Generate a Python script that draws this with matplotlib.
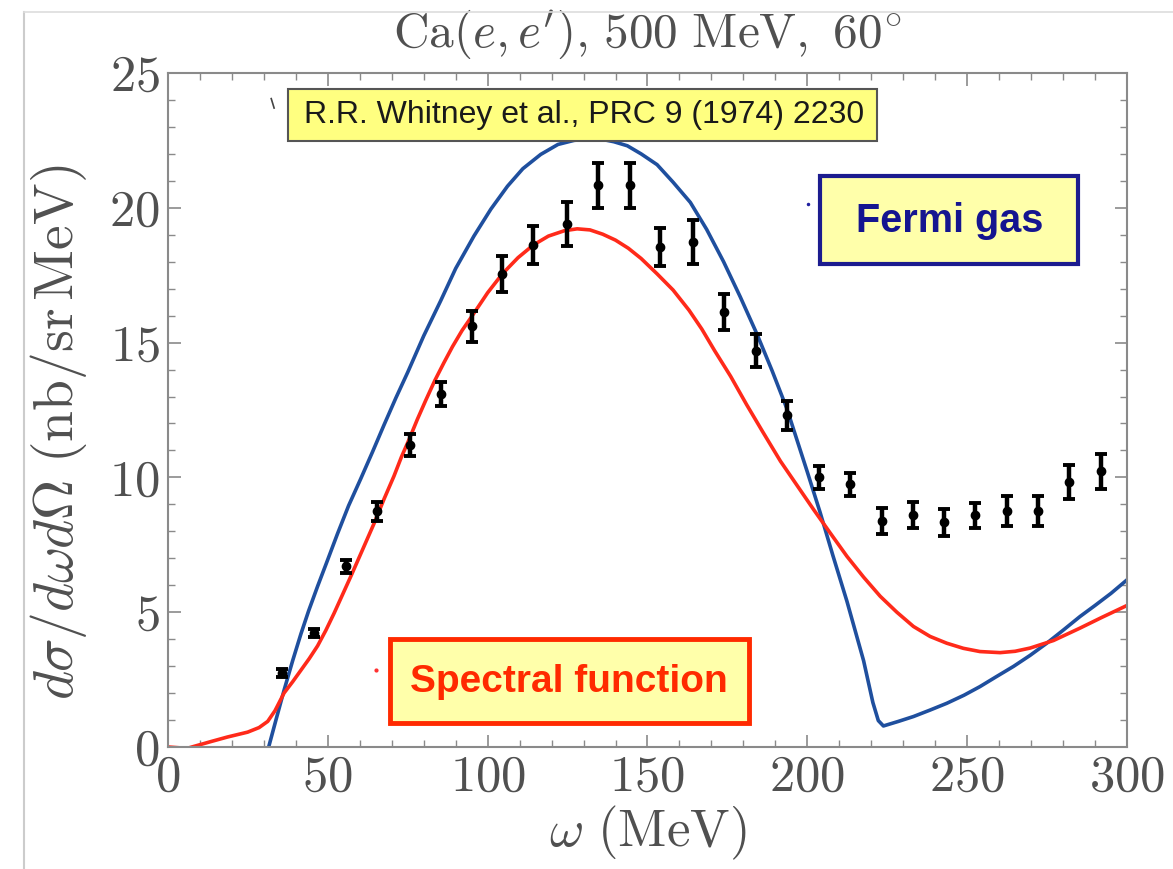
import matplotlib.pyplot as plt
from matplotlib.patches import Rectangle
from matplotlib.lines import Line2D

# measured cross section, Whitney et al.
omega_data = [35.8, 45.7, 55.6, 65.3, 75.7, 85.4, 95.2, 104.6, 114.3, 124.7, 134.5, 144.4, 154.0, 164.3,
              173.8, 183.8, 193.6, 203.7, 213.4, 223.2, 233.0, 242.6, 252.5, 262.4, 272.1, 282.0, 291.8]
xsec_data = [2.74, 4.23, 6.70, 8.75, 11.2, 13.1, 15.6, 17.55, 18.62, 19.4, 20.83, 20.83, 18.54, 18.73,
             16.14, 14.7, 12.3, 10.0, 9.75, 8.38, 8.6, 8.34, 8.59, 8.75, 8.75, 9.83, 10.23]
xsec_err = [0.15, 0.15, 0.25, 0.35, 0.42, 0.45, 0.57, 0.67, 0.7, 0.82, 0.82, 0.82, 0.7, 0.8,
            0.67, 0.62, 0.55, 0.43, 0.43, 0.47, 0.47, 0.5, 0.47, 0.55, 0.55, 0.62, 0.65]

# Fermi gas model
fg_omega = [31.5, 34.0, 36.3, 39.0, 41.6, 44.0, 46.8, 49.5, 53.0, 56.5, 60.3, 64.0, 67.6, 71.3, 75.0,
            80.0, 85.3, 90.0, 95.7, 101.0, 106.2, 111.0, 116.6, 122.0, 127.0, 131.0, 135.3, 139.5,
            143.7, 148.0, 153.0, 158.0, 163.4, 168.5, 173.8, 179.0, 184.3, 189.0, 193.6, 197.0,
            200.0, 204.0, 208.0, 212.4, 217.6, 220.5, 222.2, 223.8, 228.5, 233.2, 238.4, 243.6,
            249.0, 254.0, 259.0, 264.5, 269.7, 274.9, 280.0, 285.3, 290.0, 295.0, 300.0]
fg_xsec = [0.0, 1.1, 2.1, 3.2, 4.2, 5.05, 5.96, 6.8, 7.9, 8.95, 9.95, 10.95, 11.95, 12.95, 13.9,
           15.25, 16.55, 17.75, 18.95, 19.95, 20.8, 21.45, 21.98, 22.35, 22.5, 22.55, 22.55, 22.45,
           22.3, 22.0, 21.6, 20.95, 20.2, 19.2, 18.0, 16.7, 15.3, 13.95, 12.55, 11.3,
           10.2, 8.7, 7.1, 5.4, 3.2, 1.65, 0.98, 0.78, 0.95, 1.13, 1.37, 1.62,
           1.92, 2.24, 2.6, 2.99, 3.4, 3.85, 4.33, 4.84, 5.25, 5.7, 6.2]

# spectral function model
sf_omega = [0.0, 6.0, 13.4, 18.6, 24.9, 28.5, 31.2, 33.5, 36.3, 39.0, 41.6, 44.2, 46.8, 49.4, 52.0,
            57.2, 60.8, 64.5, 67.6, 70.7, 73.0, 75.4, 78.0, 80.6, 83.5, 86.3, 89.0, 92.0, 95.2,
            100.0, 104.6, 109.5, 114.3, 119.0, 124.0, 128.0, 132.0, 136.0, 140.0, 144.0, 148.0,
            153.0, 158.0, 163.0, 167.0, 171.0, 176.0, 181.0, 186.0, 191.6, 196.8, 202.0, 207.2,
            212.4, 217.6, 222.8, 228.0, 233.2, 238.4, 243.6, 248.8, 254.0, 260.3, 265.0, 269.7,
            277.0, 285.3, 292.0, 300.0]
sf_xsec = [0.0, -0.05, 0.2, 0.37, 0.55, 0.72, 0.95, 1.35, 2.0, 2.42, 2.85, 3.28, 3.75, 4.33, 4.97,
           6.33, 7.3, 8.3, 9.2, 10.05, 10.75, 11.4, 12.15, 12.85, 13.6, 14.25, 14.85, 15.45, 16.0,
           16.85, 17.55, 18.15, 18.62, 18.95, 19.15, 19.22, 19.18, 19.02, 18.8, 18.5, 18.12,
           17.55, 16.95, 16.2, 15.5, 14.7, 13.75, 12.7, 11.7, 10.6, 9.7, 8.8, 7.93,
           7.07, 6.3, 5.59, 5.0, 4.47, 4.1, 3.85, 3.66, 3.54, 3.5, 3.55, 3.67,
           3.95, 4.41, 4.8, 5.25]

plt.rcParams['mathtext.fontset'] = 'cm'
plt.rcParams['font.family'] = 'serif'
plt.rcParams['font.serif'] = ['cmr10']
plt.rcParams['axes.formatter.use_mathtext'] = True

fig = plt.figure(figsize=(11.73, 8.69), dpi=100)
ax = fig.add_axes([0.1432, 0.1404, 0.8176, 0.7756])

ax.plot(fg_omega, fg_xsec, color='#1f4f9e', lw=2.6, zorder=2, solid_joinstyle='round')
ax.plot(sf_omega, sf_xsec, color='#ff2a1a', lw=2.6, zorder=2, solid_joinstyle='round')
ax.errorbar(omega_data, xsec_data, yerr=xsec_err, fmt='o', color='black', ms=6,
            elinewidth=3.2, capsize=4.5, capthick=2.8, zorder=3)

ax.set_xlim(0, 300)
ax.set_ylim(0, 25)
ax.set_xticks(range(0, 301, 50))
ax.set_xticks(range(0, 301, 10), minor=True)
ax.set_yticks(range(0, 26, 5))
ax.set_yticks(range(0, 26, 1), minor=True)
ax.tick_params(which='both', direction='in', top=True, right=True, colors='#8a8a8a',
               labelcolor='#505050', labelsize=36.5)
ax.tick_params(which='major', length=9, width=1.2, pad=6)
ax.tick_params(which='minor', length=5, width=1.0)
for s in ax.spines.values():
    s.set_color('#8a8a8a')
    s.set_linewidth(1.5)

ax.set_xlabel(r'$\omega\ (\mathrm{MeV})$', fontsize=38, color='#505050')
ax.set_ylabel(r'$d\sigma/d\omega d\Omega\ (\mathrm{nb/sr\,MeV})$', fontsize=40, color='#505050')
ax.xaxis.set_label_coords(0.5, -0.085)
ax.yaxis.set_label_coords(-0.082, 0.467)
ax.set_title(r'$\mathrm{Ca}(e,e^{\prime})\mathrm{,}\ 500\ \mathrm{MeV,}\ 60^{\circ}$', fontsize=35.5,
             color='#505050', pad=19)

sans = ['Liberation Sans', 'DejaVu Sans']

# reference box
ax.add_patch(Rectangle((37.5, 22.49), 184.4, 1.9, fc='#ffff80', ec='#555555', lw=1.5, zorder=4))
ax.text(130.3, 23.44, 'R.R. Whitney et al., PRC 9 (1974) 2230', fontsize=23, family=sans,
        ha='center', va='center', color='#1a1a1a', zorder=5)
ax.plot([32.3, 33.2], [24.05, 23.7], color='#444444', lw=1.2, zorder=4)

# model labels
ax.add_patch(Rectangle((204.1, 17.92), 80.6, 3.27, fc='#ffffaa', ec='#1c1c8f', lw=3, zorder=4))
ax.text(244.4, 19.5, 'Fermi gas', fontsize=28.5, family=sans, weight='bold',
        ha='center', va='center', color='#151590', zorder=5)
ax.plot(200.3, 20.15, '.', color='#2020a0', ms=3, zorder=4)

ax.add_patch(Rectangle((69.4, 0.89), 112.5, 3.12, fc='#ffffaa', ec='#ff2a00', lw=3.5, zorder=4))
ax.text(125.4, 2.4, 'Spectral function', fontsize=28, family=sans, weight='bold',
        ha='center', va='center', color='#ff2a00', zorder=5)
ax.plot(65, 2.86, '.', color='#ff3030', ms=4, zorder=4)

# frame lines around the figure
fig.add_artist(Line2D([24 / 1173, 24 / 1173], [0, 1 - 12 / 869], color='#cccccc', lw=1.5))
fig.add_artist(Line2D([24 / 1173, 1], [1 - 12 / 869, 1 - 12 / 869], color='#dddddd', lw=1.2))

fig.savefig('out.png', dpi=100)
